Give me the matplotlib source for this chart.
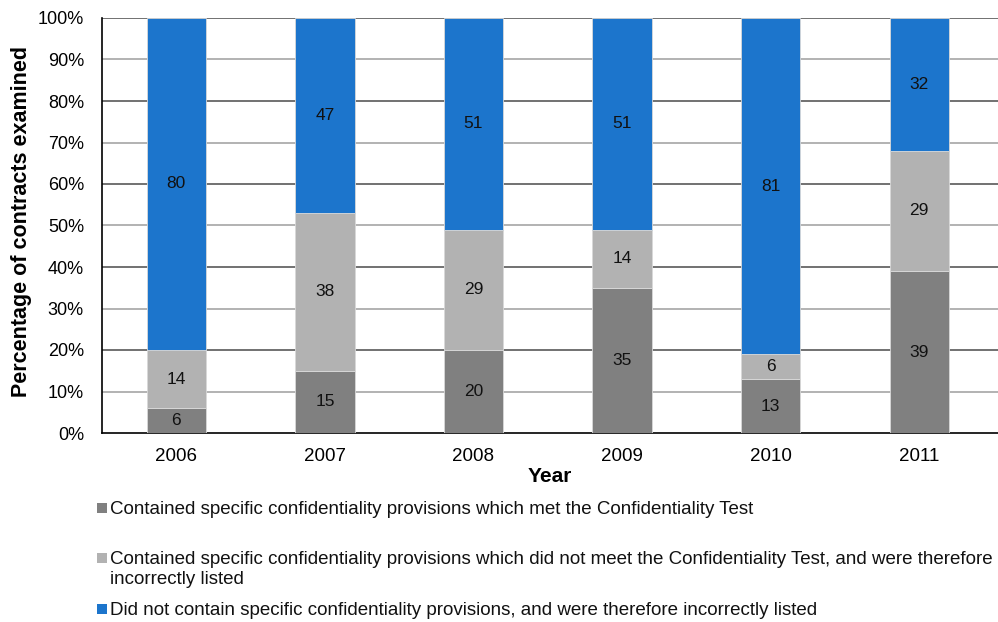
import numpy as np
import matplotlib.pyplot as plt
from matplotlib.patches import Rectangle

plt.rcParams['font.family'] = ['Liberation Sans', 'DejaVu Sans']

years = ['2006', '2007', '2008', '2009', '2010', '2011']
met_test = [6, 15, 20, 35, 13, 39]
not_met_test = [14, 38, 29, 14, 6, 29]
no_provisions = [80, 47, 51, 51, 81, 32]

labels = [
    'Contained specific confidentiality provisions which met the Confidentiality Test',
    'Contained specific confidentiality provisions which did not meet the Confidentiality Test, and were therefore\nincorrectly listed',
    'Did not contain specific confidentiality provisions, and were therefore incorrectly listed',
]
colors = ['#808080', '#b2b2b2', '#1c75cc']

fig = plt.figure(figsize=(9.98, 6.22), dpi=100)
ax = fig.add_axes([102 / 998, 1 - 433 / 622, 896 / 998, 415 / 622])

x = np.arange(len(years))
series = [met_test, not_met_test, no_provisions]
bottom = np.zeros(len(years))
for vals, col in zip(series, colors):
    vals = np.array(vals)
    ax.bar(x, vals, 0.4, bottom=bottom, color=col, edgecolor='#d9d9d9',
           linewidth=0.6, zorder=3)
    for xi, b, v in zip(x, bottom, vals):
        ax.text(xi, b + v / 2, str(v), ha='center', va='center', fontsize=12.5,
                color='#111111', zorder=4)
    bottom += vals

ax.set_xlim(-0.5, len(years) - 0.5 + 0.03)
ax.set_ylim(0, 100)
ax.set_yticks(range(0, 101, 10))
ax.set_yticklabels([f'{t}%' for t in range(0, 101, 10)], fontsize=13)
ax.set_xticks(x)
ax.set_xticklabels(years, fontsize=13.5)
ax.tick_params(axis='y', length=0, pad=13)
ax.tick_params(axis='x', length=0, pad=11)

# gridlines alternate dark / light grey
for i, t in enumerate(range(10, 101, 10)):
    ax.axhline(t, color='#595959' if i % 2 else '#a6a6a6', linewidth=1.2, zorder=1)

for s in ['top', 'right']:
    ax.spines[s].set_visible(False)
ax.spines['left'].set_color('black')
ax.spines['bottom'].set_color('black')
ax.spines['left'].set_linewidth(1.2)
ax.spines['bottom'].set_linewidth(1.2)

ax.set_ylabel('Percentage of contracts examined', fontsize=15.5, fontweight='bold')
ax.yaxis.set_label_coords(-0.078, 0.51)
ax.set_xlabel('Year', fontsize=15, fontweight='bold', labelpad=1)

# legend below the axes, one square per entry
legend_rows = [508, 558, 609]
for lab, col, yy in zip(labels, colors, legend_rows):
    fig.patches.append(Rectangle((97 / 998, 1 - (yy + 5) / 622), 10 / 998, 10 / 622,
                                 transform=fig.transFigure, facecolor=col, edgecolor='none'))
    for k, line in enumerate(lab.split('\n')):
        fig.text(110 / 998, 1 - (yy + 6 + 20 * k) / 622, line, fontsize=13.5,
                 va='baseline', ha='left', color='#111111')

fig.savefig('out.png', dpi=100)
